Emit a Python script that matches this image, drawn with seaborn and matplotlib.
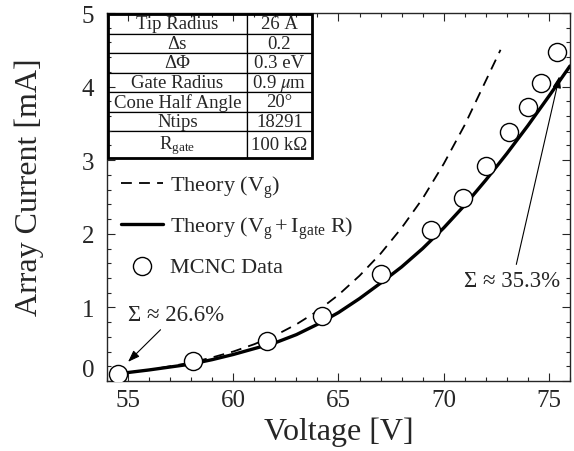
import pandas as pd
import matplotlib
matplotlib.use("Agg")
import matplotlib.pyplot as plt
import seaborn as sns
from matplotlib.patches import Rectangle
from matplotlib.ticker import MultipleLocator

mcnc_voltage = [54.5, 58.1, 61.6, 64.2, 67.0, 69.4, 70.9, 72.0, 73.1, 74.0, 74.6, 75.4]
mcnc_current = [0.10, 0.27, 0.54, 0.88, 1.45, 2.05, 2.49, 2.92, 3.38, 3.72, 4.05, 4.47]

# Theory (Vg + Igate R), solid curve
theory_r_voltage = [54.85, 56, 57, 58, 59, 60, 61, 62, 63, 64, 65, 66, 67, 68, 69, 70, 71, 72, 73, 74, 75, 76]
theory_r_current = [0.11, 0.15, 0.19, 0.23, 0.29, 0.36, 0.44, 0.52, 0.63, 0.77, 0.93, 1.12, 1.33, 1.55,
                    1.80, 2.08, 2.39, 2.73, 3.09, 3.47, 3.87, 4.28]

# Theory (Vg), dashed curve
theory_voltage = [54.85, 56, 57, 58, 59, 60, 61, 62, 63, 64, 65, 66, 67, 68, 69, 70, 71, 72, 72.7]
theory_current = [0.11, 0.15, 0.20, 0.25, 0.32, 0.40, 0.50, 0.62, 0.77, 0.95, 1.17, 1.43, 1.73, 2.08,
                  2.48, 2.95, 3.48, 4.08, 4.50]

# parameter table
param_names = ["Tip Radius", "Δs", "ΔΦ", "Gate Radius", "Cone Half Angle", "Ntips", r"$\mathregular{R_{gate}}$"]
param_values = ["26 Å", "0.2", "0.3 eV", r"0.9 $\mu$m", "20°", "18291", "100 kΩ"]

x_ticks = [55, 60, 65, 70, 75]
y_ticks = [0, 1, 2, 3, 4, 5]

sns.set_style("ticks")
plt.rcParams["font.family"] = ["Liberation Serif", "DejaVu Serif"]
plt.rcParams["mathtext.fontset"] = "stix"

fig = plt.figure(figsize=(5.74, 4.52), dpi=100)
ax = fig.add_axes([0.1864, 0.1549, 0.8066, 0.8141])

df_theory = pd.DataFrame({"v": theory_voltage, "i": theory_current})
df_theory_r = pd.DataFrame({"v": theory_r_voltage, "i": theory_r_current})
df_mcnc = pd.DataFrame({"v": mcnc_voltage, "i": mcnc_current})

sns.lineplot(data=df_theory, x="v", y="i", ax=ax, color="black", lw=1.3,
             dashes=False, linestyle=(0, (6, 4)), label=r"Theory ($\mathregular{V_g}$)")
sns.lineplot(data=df_theory_r, x="v", y="i", ax=ax, color="black", lw=2.4,
             label=r"Theory ($\mathregular{V_g + I_{gate}\ R}$)")
sns.scatterplot(data=df_mcnc, x="v", y="i", ax=ax, s=170, facecolor="white",
                edgecolor="black", linewidth=1.0, zorder=5, label="MCNC Data")

ax.set_xlim(54, 76)
ax.set_ylim(0, 5)
ax.set_xticks(x_ticks)
ax.set_yticks(y_ticks)
ax.xaxis.set_minor_locator(MultipleLocator(1))
ax.yaxis.set_minor_locator(MultipleLocator(0.2))
ax.tick_params(which="both", direction="in", top=True, right=True, labelsize=18, width=0.8)
ax.tick_params(which="major", length=6)
ax.tick_params(which="minor", length=3)
ax.tick_params(axis="x", pad=6)
ax.tick_params(axis="y", pad=9)
for s in ax.spines.values():
    s.set_linewidth(1.0)
ax.get_yticklabels()[0].set_va("bottom")

ax.set_xlabel("Voltage [V]", fontsize=23, labelpad=4)
ax.set_ylabel("Array Current [mA]", fontsize=23)
ax.yaxis.set_label_coords(-0.135, 0.53)

ax.legend(loc="upper left", bbox_to_anchor=(0.03, 0.565), frameon=False, fontsize=16,
          handlelength=1.9, handletextpad=0.3, labelspacing=0.68, borderpad=0, borderaxespad=0)

# parameter table in the upper left corner
tbl = ax.table(cellText=[[n, v] for n, v in zip(param_names, param_values)],
               colWidths=[0.300, 0.141], cellLoc="center",
               bbox=[0.002, 0.606, 0.441, 0.391])
tbl.auto_set_font_size(False)
tbl.set_fontsize(13.5)
for (r, c), cell in tbl.get_celld().items():
    cell.set_linewidth(0.9)
    cell.set_facecolor("white")
    cell.set_height(0.05 * (1.38 if r == len(param_names) - 1 else 1.0))
ax.add_patch(Rectangle((0.002, 0.606), 0.441, 0.391, transform=ax.transAxes,
                       fill=False, lw=2.0, edgecolor="black", zorder=10))

arrow = dict(arrowstyle="-|>,head_length=0.5,head_width=0.18", color="black", lw=0.8,
             mutation_scale=14, shrinkA=2, shrinkB=0)
ax.annotate("Σ ≈ 26.6%", xy=(55.0, 0.26), xytext=(57.3, 0.91), fontsize=16.5,
            ha="center", va="center", arrowprops=arrow)
ax.annotate("Σ ≈ 35.3%", xy=(75.5, 4.14), xytext=(73.27, 1.36), fontsize=16.5,
            ha="center", va="center", arrowprops=arrow)

fig.savefig("out.png", dpi=100)
